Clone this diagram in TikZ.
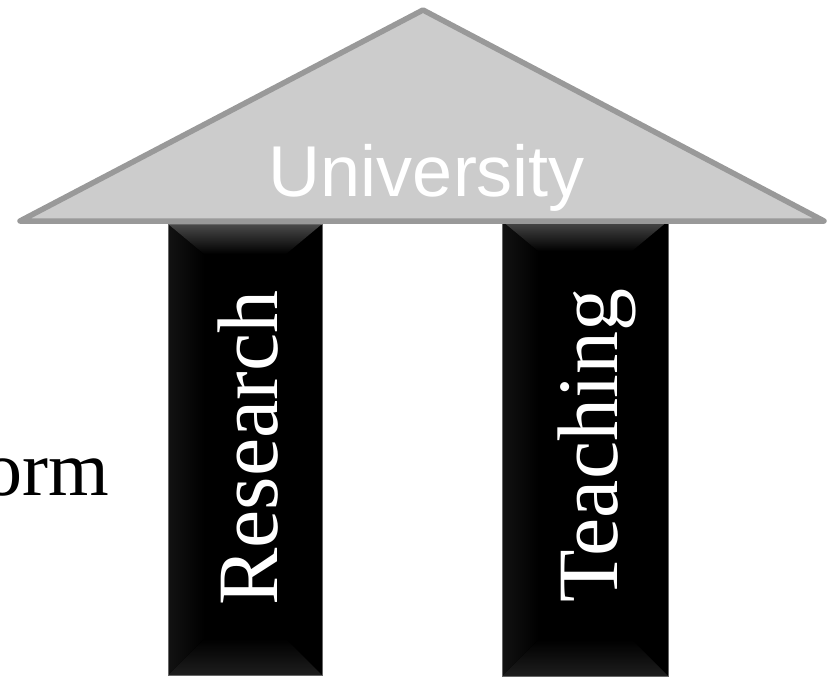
\documentclass[tikz,border=0pt]{standalone}
\usepackage{fontspec}
\setmainfont{Liberation Serif}
\newfontfamily\arialfont{Liberation Sans}
\usetikzlibrary{calc,positioning}
\definecolor{RoofFill}{HTML}{CCCCCC}
\definecolor{RoofLine}{HTML}{999999}
\definecolor{BevelTop}{HTML}{4A4A4A}
\definecolor{BevelBottom}{HTML}{1E1E1E}
\definecolor{BevelSide}{HTML}{121212}

\begin{document}
\begin{tikzpicture}[
    x=1pt, y=-1pt,
    roof/.style={fill=RoofFill, draw=RoofLine, line width=5.5pt, line join=round},
    pillar/.style={rectangle, fill=black, draw=black!60, line width=0.8pt, inner sep=0pt,
      path picture={
        \coordinate (nw) at (path picture bounding box.north west);
        \coordinate (ne) at (path picture bounding box.north east);
        \coordinate (sw) at (path picture bounding box.south west);
        \coordinate (se) at (path picture bounding box.south east);
        \fill[left color=BevelSide, right color=black] (nw) -- ($(nw)+(36,30)$) -- ($(sw)+(36,-36)$) -- (sw) -- cycle;
        \fill[top color=BevelTop, bottom color=black] (nw) -- (ne) -- ($(ne)+(-36,30)$) -- ($(nw)+(36,30)$) -- cycle;
        \fill[top color=black, bottom color=BevelBottom] (sw) -- (se) -- ($(se)+(-36,-36)$) -- ($(sw)+(36,-36)$) -- cycle;
      }},
    pillarlabel/.style={text=white, rotate=90, anchor=base, inner sep=0pt, font=\fontsize{86}{90}\selectfont},
    rooflabel/.style={text=white, anchor=base, inner sep=0pt, font=\arialfont\fontsize{72}{80}\selectfont}
  ]
  \clip (0,0) rectangle (829,677);

  \node[pillar, minimum width=154, minimum height=451] (research) at (245,449.5) {};
  \node[pillar, minimum width=166, minimum height=455] (teaching) at (585,448.5) {};

  \coordinate (left) at (20,221);
  \coordinate (top) at (423,10);
  \coordinate (right) at (824,221);
  \draw[roof] (left) -- (top) -- (right) -- cycle;

  \node[rooflabel] (university) at (427,196) {University};
  \node[pillarlabel] (researchtext) at (277,448) {Research};
  \node[pillarlabel] (teachingtext) at (617,446) {Teaching};

  \node[anchor=base east, inner sep=0pt, font=\fontsize{78}{84}\selectfont] (orm) at (109,495) {orm};
\end{tikzpicture}
\end{document}
